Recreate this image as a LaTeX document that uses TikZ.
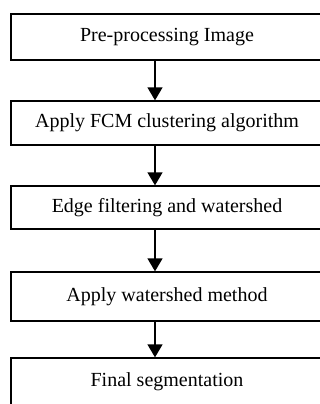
\documentclass[tikz,border=0pt]{standalone}
\usepackage{fontspec}
\setmainfont{Liberation Serif}
\usetikzlibrary{arrows.meta}

\begin{document}
\begin{tikzpicture}[x=1pt,y=-1pt,
  stepbox/.style={rectangle,draw=black,line width=1.3pt,
                  minimum width=312pt,inner sep=0pt,
                  font=\fontsize{20}{24}\selectfont},
  arr/.style={-{Triangle[length=13pt,width=15pt]},line width=1.3pt},
]
\useasboundingbox (0,0) rectangle (320,404);
\clip (0,0) rectangle (320,404);

% Steps of the flow
\node[stepbox,minimum height=46pt] (pre)  at (167, 37)    {Pre-processing Image};
\node[stepbox,minimum height=44pt] (fcm)  at (167, 123)   {Apply FCM clustering algorithm};
\node[stepbox,minimum height=43pt] (edge) at (167, 207.5) {Edge filtering and watershed};
\node[stepbox,minimum height=49pt] (wat)  at (167, 296.5) {Apply watershed method};
\node[stepbox,minimum height=48pt] (fin)  at (167, 382)   {Final segmentation};

% Arrows, all on one vertical line
\coordinate (ax) at (155,0);
\draw[arr] (pre.south -| ax)  -- (fcm.north -| ax);
\draw[arr] (fcm.south -| ax)  -- (edge.north -| ax);
\draw[arr] (edge.south -| ax) -- (wat.north -| ax);
\draw[arr] (wat.south -| ax)  -- (fin.north -| ax);

\end{tikzpicture}
\end{document}
